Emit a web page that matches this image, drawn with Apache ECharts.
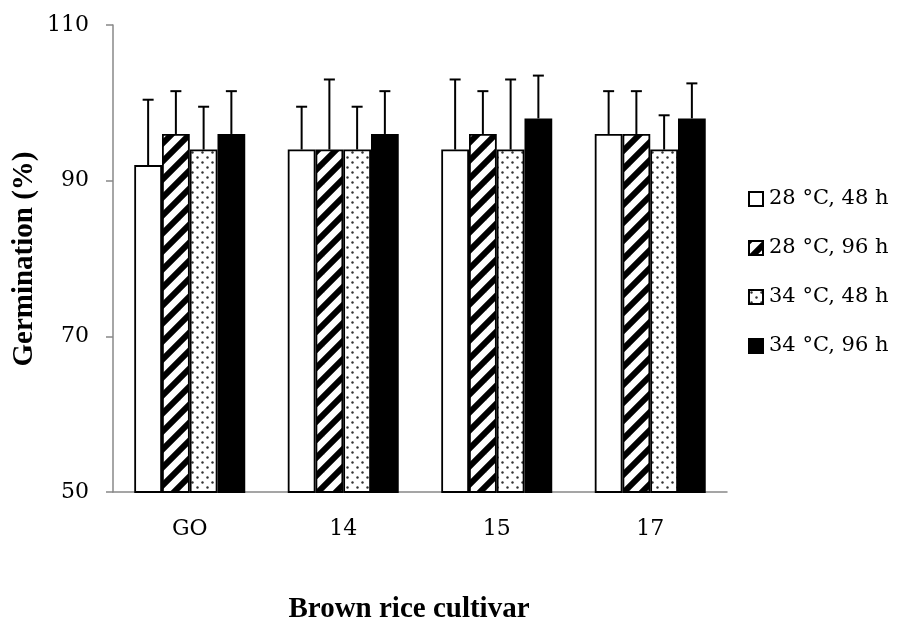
<!DOCTYPE html>
<html>
<head>
<meta charset="utf-8">
<script src="https://cdn.jsdelivr.net/npm/echarts@6/dist/echarts.min.js"></script>
<style>
  html, body { margin: 0; padding: 0; background: #fff; }
  #chart { width: 897px; height: 631px; }
</style>
</head>
<body>
<div id="chart"></div>
<script>
const cultivars = ["GO", "14", "15", "17"];
const seriesNames = ["28 °C, 48 h", "28 °C, 96 h", "34 °C, 48 h", "34 °C, 96 h"];
const mean_28_48 = [92, 94, 94, 96];
const mean_28_96 = [96, 94, 96, 96];
const mean_34_48 = [94, 94, 94, 94];
const mean_34_96 = [96, 96, 98, 98];
const err_28_48 = [8.4, 5.5, 9, 5.5];
const err_28_96 = [5.5, 9, 5.5, 5.5];
const err_34_48 = [5.5, 5.5, 9, 4.4];
const err_34_96 = [5.5, 5.5, 5.5, 4.5];

const means = [mean_28_48, mean_28_96, mean_34_48, mean_34_96];
const errs = [err_28_48, err_28_96, err_34_48, err_34_96];
const catGap = 0.277;

function stripePattern() {
  const c = document.createElement("canvas");
  c.width = 18; c.height = 18;
  const ctx = c.getContext("2d");
  ctx.fillStyle = "#fff";
  ctx.fillRect(0, 0, 18, 18);
  ctx.strokeStyle = "#000";
  ctx.lineWidth = 6;
  [[-9, 9, 9, -9], [0, 18, 18, 0], [9, 27, 27, 9]].forEach(([a, b, d, e]) => {
    ctx.beginPath();
    ctx.moveTo(a, b);
    ctx.lineTo(d, e);
    ctx.stroke();
  });
  return c;
}

function dotPattern() {
  const c = document.createElement("canvas");
  c.width = 10; c.height = 10;
  const ctx = c.getContext("2d");
  ctx.fillStyle = "#fff";
  ctx.fillRect(0, 0, 10, 10);
  ctx.fillStyle = "#333";
  [[2.5, 2.5], [7.5, 7.5]].forEach(([x, y]) => {
    ctx.beginPath();
    ctx.arc(x, y, 1.2, 0, Math.PI * 2);
    ctx.fill();
  });
  return c;
}

const fills = [
  "#ffffff",
  { image: stripePattern(), repeat: "repeat" },
  { image: dotPattern(), repeat: "repeat" },
  "#000000"
];

const barSeries = seriesNames.map((name, k) => ({
  name: name,
  type: "bar",
  barGap: "0%",
  barCategoryGap: (catGap * 100) + "%",
  data: means[k],
  itemStyle: {
    color: fills[k],
    borderColor: "#000",
    borderWidth: 1.8
  },
  z: 2
}));

const errSeries = seriesNames.map((name, k) => ({
  type: "custom",
  name: "err" + k,
  data: cultivars.map((c, i) => [i, means[k][i], errs[k][i]]),
  z: 3,
  silent: true,
  renderItem(params, api) {
    const idx = api.value(0);
    const v = api.value(1);
    const e = api.value(2);
    const base = api.coord([idx, v]);
    const top = api.coord([idx, v + e]);
    const bandW = api.size([1, 0])[0];
    const barW = bandW * (1 - catGap) / 4;
    const cx = base[0] + (k - 1.5) * barW;
    const style = { stroke: "#000", lineWidth: 2 };
    return {
      type: "group",
      children: [
        { type: "line", shape: { x1: cx, y1: base[1], x2: cx, y2: top[1] }, style },
        { type: "line", shape: { x1: cx - 5.5, y1: top[1], x2: cx + 5.5, y2: top[1] }, style }
      ]
    };
  }
}));

const chart = echarts.init(document.getElementById("chart"));
chart.setOption({
  animation: false,
  backgroundColor: "#fff",
  textStyle: { fontFamily: "DejaVu Serif" },
  grid: { left: 113, right: 170, top: 25, bottom: 139 },
  legend: {
    data: seriesNames,
    orient: "vertical",
    left: 748,
    top: 188,
    padding: 0,
    icon: "rect",
    itemWidth: 14,
    itemHeight: 14,
    itemGap: 27,
    selectedMode: false,
    textStyle: { fontFamily: "DejaVu Serif", fontSize: 21, color: "#000", lineHeight: 22, padding: [0, 0, 0, 1] }
  },
  xAxis: {
    type: "category",
    data: cultivars,
    axisLine: { lineStyle: { color: "#888", width: 1.5 } },
    axisTick: { length: 8, lineStyle: { color: "#888", width: 1.5 } },
    axisLabel: { fontFamily: "DejaVu Serif", fontSize: 22, color: "#000", margin: 26 }
  },
  yAxis: {
    type: "value",
    min: 50,
    max: 110,
    interval: 20,
    splitLine: { show: false },
    axisLine: { show: true, lineStyle: { color: "#888", width: 1.5 } },
    axisTick: { show: true, length: 7, lineStyle: { color: "#888", width: 1.5 } },
    axisLabel: { fontFamily: "DejaVu Serif", fontSize: 22, color: "#000", margin: 24 }
  },
  graphic: [
    {
      type: "text",
      x: 25,
      y: 259,
      rotation: Math.PI / 2,
      style: {
        text: "Germination (%)",
        font: "bold 29px 'Liberation Serif'",
        fill: "#000",
        align: "center",
        verticalAlign: "middle"
      }
    },
    {
      type: "text",
      x: 409,
      y: 610,
      style: {
        text: "Brown rice cultivar",
        font: "bold 29px 'Liberation Serif'",
        fill: "#000",
        align: "center",
        verticalAlign: "middle"
      }
    }
  ],
  series: [...barSeries, ...errSeries]
});
</script>
</body>
</html>
